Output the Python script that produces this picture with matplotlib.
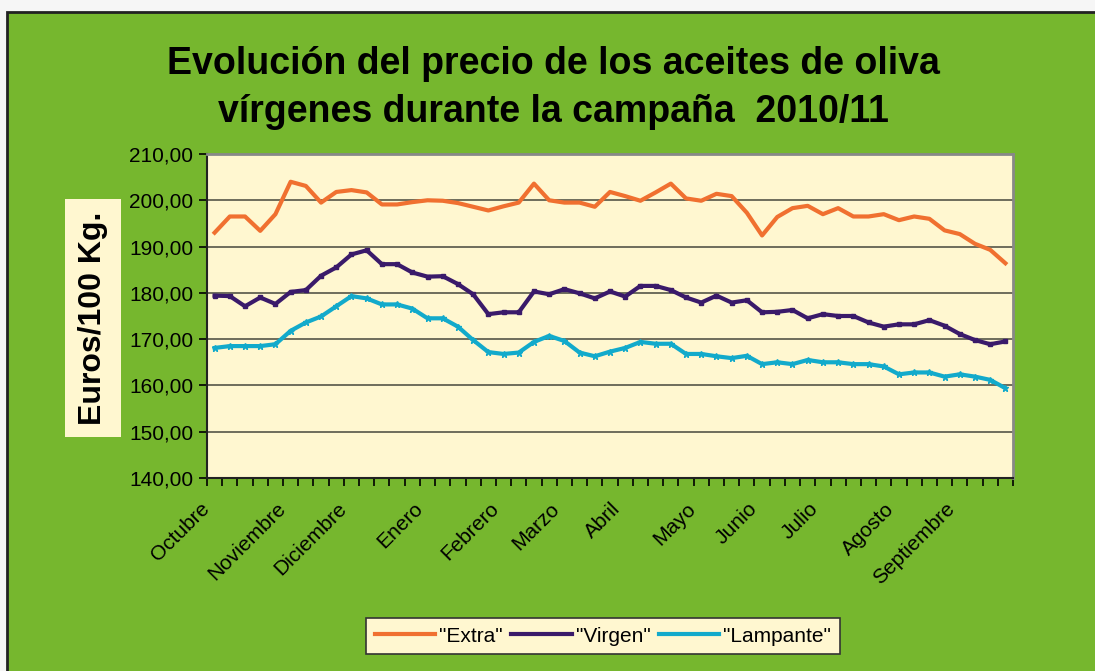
import matplotlib
matplotlib.use("Agg")
import matplotlib.pyplot as plt
from matplotlib.patches import Rectangle
from matplotlib.ticker import FixedLocator, FuncFormatter, NullLocator

plt.rcParams['font.family'] = ['Liberation Sans', 'DejaVu Sans']

# precios semanales (euros/100 kg), campaña 2010/11
extra = [193.0, 196.5, 196.5, 193.4, 197.0, 204.0, 203.1, 199.5, 201.8, 202.2,
         201.7, 199.1, 199.1, 199.6, 200.0, 199.9, 199.4, 198.6, 197.8,
         198.7, 199.5, 203.6, 200.0, 199.5, 199.5, 198.6, 201.8, 200.9, 199.9,
         201.7, 203.6, 200.4, 199.9, 201.4, 200.9, 197.3, 192.4, 196.4,
         198.3, 198.8, 197.0, 198.3, 196.5, 196.5, 197.0, 195.7, 196.5, 196.0,
         193.5, 192.7, 190.6, 189.3, 186.4]
virgen = [179.4, 179.3, 177.1, 179.0, 177.6, 180.2, 180.6, 183.7, 185.5, 188.3,
          189.2, 186.2, 186.2, 184.4, 183.5, 183.6, 181.9, 179.7, 175.4,
          175.8, 175.8, 180.3, 179.7, 180.8, 179.9, 178.8, 180.3, 179.2, 181.5,
          181.5, 180.6, 179.0, 177.9, 179.4, 177.9, 178.4, 175.8, 175.9,
          176.3, 174.5, 175.4, 175.0, 175.0, 173.6, 172.7, 173.2, 173.2, 174.1,
          172.9, 171.1, 169.8, 168.9, 169.5]
lampante = [168.1, 168.5, 168.5, 168.5, 168.9, 171.8, 173.6, 174.9, 177.1, 179.3,
            178.8, 177.5, 177.5, 176.6, 174.5, 174.5, 172.7, 169.8, 167.2,
            166.8, 167.1, 169.4, 170.7, 169.6, 167.1, 166.3, 167.3, 168.1, 169.4,
            169.0, 169.0, 166.8, 166.8, 166.3, 165.9, 166.4, 164.6, 165.0,
            164.6, 165.5, 165.0, 165.0, 164.6, 164.6, 164.1, 162.4, 162.8, 162.8,
            161.9, 162.4, 161.9, 161.2, 159.4]

meses = ["Octubre", "Noviembre", "Diciembre", "Enero", "Febrero", "Marzo",
         "Abril", "Mayo", "Junio", "Julio", "Agosto", "Septiembre"]
semana_mes = [0, 5, 9, 14, 19, 23, 27, 32, 36, 40, 45, 49]

verde = "#76b72e"
crema = "#fff7d0"

W, H = 1095, 671
fig = plt.figure(figsize=(W / 100, H / 100), dpi=100)
fig.patch.set_facecolor("#f6f6f6")

# panel verde de fondo
fig.patches.append(Rectangle((7 / W, -0.01), 1.1, 1 - 12 / H + 0.01,
                             transform=fig.transFigure, facecolor=verde,
                             edgecolor="#222222", linewidth=2, zorder=-5))

ax = fig.add_axes([207 / W, 1 - 478 / H, 806 / W, 324 / H])
ax.set_zorder(2)
ax.set_facecolor(crema)

x = list(range(len(extra)))
ax.plot(x, extra, color="#f07030", lw=3.0, label='"Extra"', zorder=3)
ax.plot(x, virgen, color="#3a1a6a", lw=3.0, marker="s", ms=2.5,
        label='"Virgen"', zorder=3)
ax.plot(x, lampante, color="#12aacb", lw=3.0, marker="*", ms=5,
        label='"Lampante"', zorder=3)

ax.set_xlim(-0.5, len(extra) - 0.5)
ax.set_ylim(140, 210)
ax.set_yticks(range(140, 211, 10))
ax.yaxis.set_major_formatter(FuncFormatter(lambda v, p: f"{v:.2f}".replace(".", ",")))
ax.grid(axis="y", color="#555548", lw=1.2)
ax.set_axisbelow(True)

# marcas entre semanas, rótulos de mes aparte
ax.xaxis.set_major_locator(NullLocator())
ax.xaxis.set_minor_locator(FixedLocator([i - 0.5 for i in range(len(extra) + 1)]))
ax.tick_params(axis="x", which="minor", length=6, width=1.2, color="black")
ax.tick_params(axis="y", length=6, width=1.2, labelsize=15, pad=4)
for s, mes in zip(semana_mes, meses):
    ax.annotate(mes, xy=(s, 0), xycoords=("data", "axes fraction"),
                xytext=(-8, -28), textcoords="offset pixels",
                rotation=45, ha="right", va="center", rotation_mode="anchor",
                fontsize=15, annotation_clip=False)

for s in ("left", "bottom"):
    ax.spines[s].set_color("#222222")
    ax.spines[s].set_linewidth(1.5)
for s in ("top", "right"):
    ax.spines[s].set_color("#888888")
    ax.spines[s].set_linewidth(2)

fig.text(553 / W, 1 - 88 / H,
         "Evolución del precio de los aceites de oliva\nvírgenes durante la campaña  2010/11",
         ha="center", va="center", fontsize=27, fontweight="bold",
         linespacing=1.4)

fig.text(93 / W, 1 - 318 / H, "Euros/100 Kg.", rotation=90, ha="center",
         va="center", fontsize=23, fontweight="bold",
         bbox=dict(boxstyle="square,pad=0.4", facecolor=crema, edgecolor="none"))

leg = fig.legend(loc="center", bbox_to_anchor=(603 / W, 1 - 636 / H), ncol=3,
                 fontsize=15, frameon=True, fancybox=False, handlelength=2.9,
                 handletextpad=0.2, columnspacing=0.4, borderpad=0.4)
leg.get_frame().set_facecolor(crema)
leg.get_frame().set_edgecolor("#333333")
leg.get_frame().set_linewidth(1.2)
leg.get_frame().set_alpha(1)
for h in leg.legend_handles:
    h.set_marker("")

fig.savefig("out.png", dpi=100, facecolor=fig.get_facecolor())
